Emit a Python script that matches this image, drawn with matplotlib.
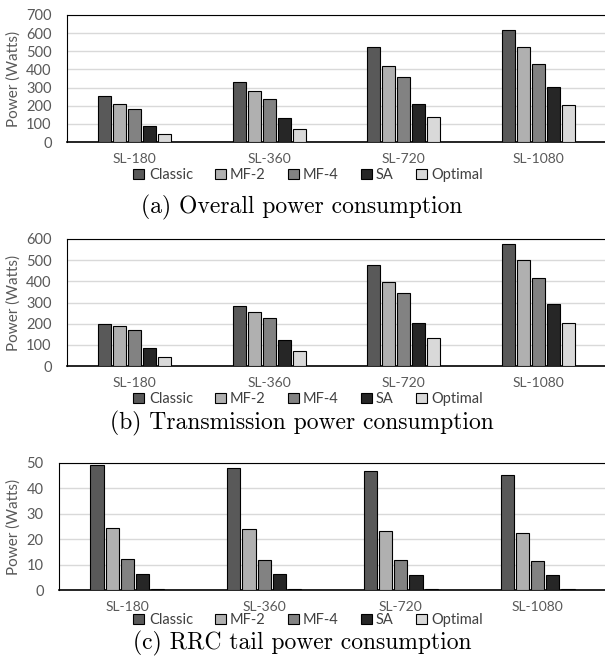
import matplotlib
matplotlib.use('Agg')
import matplotlib.pyplot as plt
import numpy as np

categories = ['SL-180', 'SL-360', 'SL-720', 'SL-1080']
series = ['Classic', 'MF-2', 'MF-4', 'SA', 'Optimal']
colors = ['#595959', '#b0b0b0', '#828282', '#262626', '#d9d9d9']

overall = {
    'Classic': [251, 330, 522, 619],
    'MF-2':    [211, 280, 420, 522],
    'MF-4':    [181, 238, 359, 429],
    'SA':      [90, 130, 211, 302],
    'Optimal': [42, 71, 136, 205],
}
transmission = {
    'Classic': [200, 283, 475, 575],
    'MF-2':    [188, 256, 398, 500],
    'MF-4':    [169, 227, 347, 418],
    'SA':      [84, 125, 205, 295],
    'Optimal': [41, 69, 134, 205],
}
rrc_tail = {
    'Classic': [49.2, 48.0, 46.7, 45.4],
    'MF-2':    [24.4, 24.0, 23.4, 22.6],
    'MF-4':    [12.3, 12.0, 11.7, 11.4],
    'SA':      [6.4, 6.2, 5.9, 5.8],
    'Optimal': [0.5, 0.5, 0.5, 0.5],
}

captions = ['(a) Overall power consumption',
            '(b) Transmission power consumption',
            '(c) RRC tail power consumption']

plt.rcParams['font.family'] = ['Lato', 'DejaVu Sans']

W, H = 605, 664
fig = plt.figure(figsize=(W / 100, H / 100), dpi=100)

# (data, top px, bottom px, left px, ymax, ystep, legend y, caption y)
panels = [
    (overall, 15, 142, 67, 700, 100, 175, 207),
    (transmission, 239, 366, 67, 600, 100, 399, 423),
    (rrc_tail, 463, 590, 59, 50, 10, 620, 643),
]

x = np.arange(len(categories))
step = 0.111
width = 0.096
right_px = 606

for k, (data, top, bot, left, ymax, ystep, leg_y, cap_y) in enumerate(panels):
    ax = fig.add_axes([left / W, 1 - bot / H, (right_px - left) / W, (bot - top) / H])
    handles = []
    for i, s in enumerate(series):
        b = ax.bar(x + (i - 2) * step, data[s], width, color=colors[i],
                   edgecolor='black', linewidth=0.8, zorder=3)
        handles.append(b)
    ax.set_xlim(-0.5, 3.5)
    ax.set_ylim(0, ymax)
    ax.set_yticks(np.arange(0, ymax + 1, ystep))
    ax.yaxis.grid(True, color='#d9d9d9', linewidth=1, zorder=0)
    ax.set_axisbelow(True)
    ax.set_xticks(x)
    ax.set_xticklabels(categories, fontsize=10, color='#595959')
    ax.tick_params(axis='x', length=0, pad=8)
    ax.tick_params(axis='y', length=0, pad=11, labelsize=10.5, labelcolor='#595959')
    for sp in ['top', 'left']:
        ax.spines[sp].set_linewidth(0.8)
    ax.spines['right'].set_visible(False)
    ax.spines['bottom'].set_linewidth(1.2)

    fig.text(14 / W, 1 - (top + bot) / 2 / H, 'Power (Watts)', rotation=90,
             ha='center', va='center', fontsize=11, color='#595959')

    ax.legend(handles, series, loc='center', ncol=5,
              bbox_to_anchor=(308 / W, 1 - leg_y / H), bbox_transform=fig.transFigure,
              frameon=False, fontsize=10.5, handlelength=0.75, handleheight=0.75,
              handletextpad=0.3, columnspacing=1.5, borderpad=0,
              labelcolor='#404040')

    fig.text(302 / W, 1 - cap_y / H, captions[k], ha='center', va='center',
             fontsize=17, family='cmr10')

fig.savefig('out.png', dpi=100)
